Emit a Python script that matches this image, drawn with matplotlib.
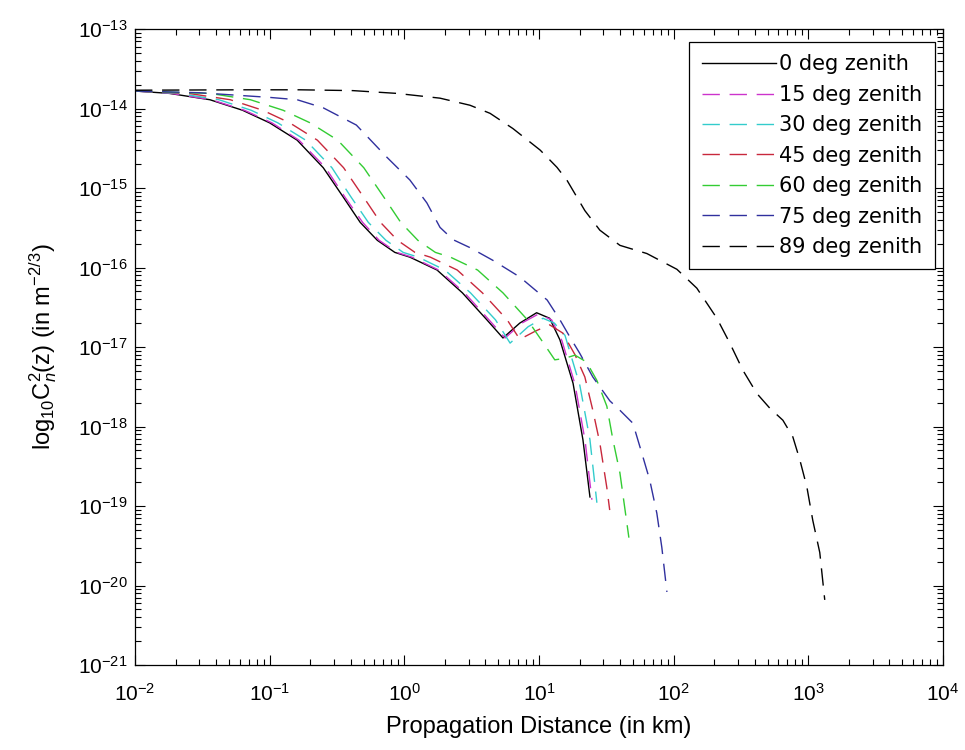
import numpy as np
import matplotlib
matplotlib.use('Agg')
import matplotlib.pyplot as plt
import matplotlib.ticker as ticker

plt.rcParams['font.family'] = ['Liberation Sans', 'DejaVu Sans']
plt.rcParams['mathtext.fontset'] = 'custom'
plt.rcParams['mathtext.rm'] = 'Liberation Sans'
plt.rcParams['mathtext.it'] = 'Liberation Sans:italic'

# --- values (distance in km, Cn^2 in m^-2/3) ---
labels = ['0 deg zenith', '15 deg zenith', '30 deg zenith', '45 deg zenith',
          '60 deg zenith', '75 deg zenith', '89 deg zenith']

x_00 = [0.01, 0.018, 0.036, 0.063, 0.10, 0.16, 0.25, 0.35, 0.47, 0.63, 0.85, 1.1,
        1.75, 2.7, 4.1, 5.4, 7.2, 9.6, 12.0, 14.3, 17.9, 21.2, 23.9]
y_00 = [1.66e-14, 1.55e-14, 1.29e-14, 9.5e-15, 6.6e-15, 4.0e-15, 1.8e-15, 7.8e-16,
        3.7e-16, 2.2e-16, 1.55e-16, 1.35e-16, 9.3e-17, 4.8e-17, 2.2e-17, 1.3e-17,
        2.0e-17, 2.7e-17, 2.3e-17, 1.23e-17, 3.5e-18, 6.8e-19, 1.3e-19]

x_15 = [0.01, 0.0186, 0.037, 0.065, 0.104, 0.165, 0.26, 0.36, 0.49, 0.65, 0.88, 1.14,
        1.8, 2.8, 4.25, 5.6, 7.45, 9.9, 12.4, 14.8, 18.5, 22.0, 24.7]
y_15 = [1.66e-14, 1.55e-14, 1.29e-14, 9.5e-15, 6.6e-15, 4.0e-15, 1.8e-15, 7.8e-16,
        3.7e-16, 2.2e-16, 1.55e-16, 1.35e-16, 9.3e-17, 4.8e-17, 2.2e-17, 1.3e-17,
        2.0e-17, 2.6e-17, 2.2e-17, 1.2e-17, 3.4e-18, 6.6e-19, 1.2e-19]

x_30 = [0.01, 0.021, 0.042, 0.073, 0.115, 0.185, 0.29, 0.40, 0.54, 0.73, 0.98, 1.27,
        2.0, 3.1, 4.75, 6.1, 8.3, 10.7, 13.0, 15.6, 20.1, 23.9, 26.9]
y_30 = [1.66e-14, 1.55e-14, 1.29e-14, 9.5e-15, 6.6e-15, 4.0e-15, 1.8e-15, 7.8e-16,
        3.7e-16, 2.2e-16, 1.55e-16, 1.35e-16, 9.3e-17, 4.8e-17, 2.2e-17, 1.12e-17,
        1.8e-17, 2.3e-17, 2.0e-17, 1.4e-17, 3.3e-18, 6.8e-19, 1.1e-19]

x_45 = [0.01, 0.025, 0.051, 0.089, 0.141, 0.226, 0.354, 0.495, 0.665, 0.89, 1.2, 1.56,
        2.47, 3.8, 5.8, 7.2, 9.5, 12.0, 15.0, 18.5, 21.9, 25.1, 28.3, 31.9, 33.5]
y_45 = [1.66e-14, 1.55e-14, 1.29e-14, 9.5e-15, 6.6e-15, 4.0e-15, 1.8e-15, 7.8e-16,
        3.7e-16, 2.2e-16, 1.55e-16, 1.35e-16, 9.3e-17, 4.8e-17, 2.2e-17, 1.25e-17,
        1.6e-17, 1.9e-17, 1.5e-17, 8.0e-18, 4.2e-18, 1.6e-18, 6.2e-19, 1.7e-19, 8.9e-20]

x_60 = [0.01, 0.036, 0.072, 0.126, 0.2, 0.32, 0.5, 0.7, 0.94, 1.26, 1.7, 2.2, 3.5, 5.4,
        8.2, 10.5, 13.1, 15.5, 18.5, 22.5, 26.9, 31.9, 35.4, 39.9, 46.5]
y_60 = [1.66e-14, 1.55e-14, 1.29e-14, 9.5e-15, 6.6e-15, 4.0e-15, 1.8e-15, 7.8e-16,
        3.7e-16, 2.2e-16, 1.55e-16, 1.35e-16, 9.3e-17, 4.8e-17, 2.2e-17, 1.2e-17,
        6.9e-18, 7.2e-18, 7.9e-18, 6.5e-18, 3.8e-18, 1.8e-18, 6.8e-19, 2.6e-19, 4.0e-20]

x_75 = [0.01, 0.030, 0.10, 0.16, 0.25, 0.44, 0.74, 1.1, 1.47, 1.84, 2.3, 3.07, 4.55,
        7.2, 11.5, 14.3, 16.9, 20.1, 25.1, 33.6, 39.9, 49.8, 59.0, 66.5, 75.0, 81.7, 89.1]
y_75 = [1.66e-14, 1.58e-14, 1.38e-14, 1.29e-14, 1.02e-14, 6.2e-15, 2.45e-15, 1.26e-15,
        6.5e-16, 3.2e-16, 2.24e-16, 1.78e-16, 1.23e-16, 7.6e-17, 3.9e-17, 2.2e-17,
        1.35e-17, 8.3e-18, 4.2e-18, 2.1e-18, 1.6e-18, 1.1e-18, 4.2e-19, 2.1e-19,
        8.1e-20, 3.0e-20, 8.3e-21]

x_89 = [0.01, 0.063, 0.168, 0.415, 0.88, 1.84, 3.07, 4.33, 6.4, 10.2, 13.6, 16.1, 21.9,
        28.3, 39.9, 63.2, 105.7, 148.6, 209.4, 261.2, 326.6, 415.0, 517.6, 647.1,
        767.4, 865.0, 975.0, 1079.0, 1216.0, 1324.0]
y_89 = [1.7e-14, 1.72e-14, 1.72e-14, 1.68e-14, 1.55e-14, 1.35e-14, 1.10e-14, 8.7e-15,
        5.6e-15, 3.0e-15, 1.82e-15, 1.26e-15, 5.2e-16, 2.95e-16, 1.9e-16, 1.5e-16,
        9.5e-17, 5.5e-17, 2.3e-17, 1.12e-17, 5.1e-18, 2.6e-18, 1.7e-18, 1.2e-18,
        7.4e-19, 3.8e-19, 1.74e-19, 6.6e-20, 2.6e-20, 6.6e-21]

x_decades = [-2, -1, 0, 1, 2, 3, 4]
y_decades = [-21, -20, -19, -18, -17, -16, -15, -14, -13]

series = [(x_00, y_00), (x_15, y_15), (x_30, y_30), (x_45, y_45),
          (x_60, y_60), (x_75, y_75), (x_89, y_89)]
colors = ['black', '#CC33CC', '#33CCCC', '#C8283C', '#33CC33', '#30309E', 'black']
dash = (0, (12.5, 7))
styles = ['-', dash, dash, dash, dash, dash, dash]

fig = plt.figure(figsize=(9.65, 7.5), dpi=100)
ax = fig.add_axes([0.1399, 0.1133, 0.8373, 0.848])

for (x, y), c, ls, lab in zip(series, colors, styles, labels):
    ax.plot(x, y, color=c, linestyle=ls, linewidth=1.0, label=lab)

ax.set_xscale('log')
ax.set_yscale('log')
ax.set_xlim(1e-2, 1e4)
ax.set_ylim(1e-21, 1e-13)

# fixed ticks so no labels are created outside the view
xmaj = [10.0 ** e for e in x_decades]
ymaj = [10.0 ** e for e in y_decades]
xmin = [m * 10.0 ** e for e in x_decades[:-1] for m in range(2, 10)]
ymin = [m * 10.0 ** e for e in y_decades[:-1] for m in range(2, 10)]
ax.xaxis.set_major_locator(ticker.FixedLocator(xmaj))
ax.yaxis.set_major_locator(ticker.FixedLocator(ymaj))
ax.xaxis.set_minor_locator(ticker.FixedLocator(xmin))
ax.yaxis.set_minor_locator(ticker.FixedLocator(ymin))
ax.xaxis.set_major_formatter(ticker.LogFormatterSciNotation())
ax.yaxis.set_major_formatter(ticker.LogFormatterSciNotation())
ax.xaxis.set_minor_formatter(ticker.NullFormatter())
ax.yaxis.set_minor_formatter(ticker.NullFormatter())

ax.tick_params(which='both', direction='in', top=True, right=True, labelsize=15, width=0.8)
ax.tick_params(which='major', length=7)
ax.tick_params(which='minor', length=4)
ax.tick_params(axis='x', pad=13)
ax.tick_params(axis='y', pad=5.5)
for s in ax.spines.values():
    s.set_linewidth(0.9)

ax.set_xlabel('Propagation Distance (in km)', fontsize=17, labelpad=8)
ax.set_ylabel(r'log$_{10}$C$_{n}^{2}$(z) (in m$^{-2/3}$)', fontsize=17, labelpad=13)

leg = ax.legend(loc='upper right', bbox_to_anchor=(0.990, 0.9796), borderaxespad=0,
                prop={'family': 'DejaVu Sans', 'size': 15},
                handlelength=3.56, handletextpad=0.15, labelspacing=0.5,
                borderpad=0.6, fancybox=False, framealpha=1, edgecolor='black')
leg.get_frame().set_linewidth(0.9)

fig.savefig('out.png', dpi=100)
